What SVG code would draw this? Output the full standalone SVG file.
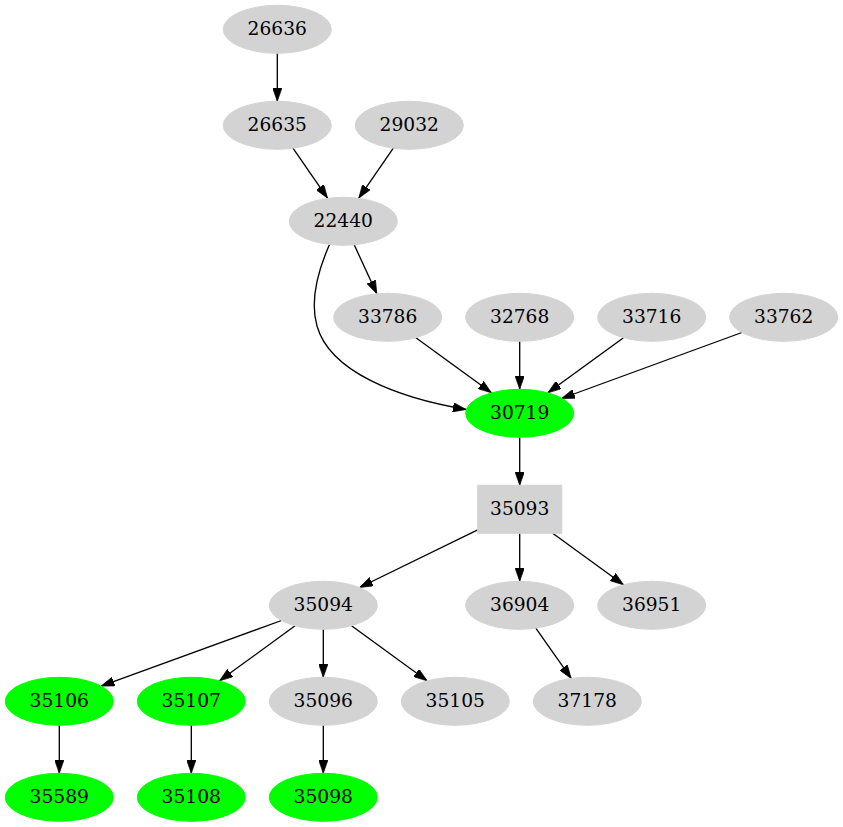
<svg xmlns="http://www.w3.org/2000/svg" width="843" height="827" viewBox="0 0 843 827">
<style>
.g ellipse, .g rect { fill: #d3d3d3; stroke: #d3d3d3; }
.hl ellipse { fill: #00ff00; stroke: #00ff00; }
text { font-family: "DejaVu Serif", "Liberation Serif", serif; font-size: 18.67px; text-anchor: middle; fill: #000; }
.e path, .e line { stroke: #000; stroke-width: 1.33; fill: none; marker-end: url(#ah); }
</style>
<defs>
<marker id="ah" viewBox="0 0 10 7" refX="10" refY="3.5" markerUnits="userSpaceOnUse" markerWidth="13.3" markerHeight="9.3" orient="auto">
<path d="M0,0 L10,3.5 L0,7 z" fill="#000" stroke="#000" stroke-width="0.5"/>
</marker>
</defs>
<rect width="843" height="827" fill="#fff"/>
<g id="edges" class="e">
<line x1="277.3" y1="53.3" x2="277.3" y2="101.3"/>
<line x1="292.8" y1="147.9" x2="327.5" y2="198.1"/>
<line x1="393.5" y1="147.9" x2="358.8" y2="198.1"/>
<line x1="354.2" y1="244.8" x2="376.8" y2="293.8"/>
<path d="M329.5,244.5 C320,266 309,298 317,326 C330,372 398,398 466.2,409.5"/>
<line x1="415.9" y1="337.8" x2="491.5" y2="392.8"/>
<line x1="519.7" y1="341.3" x2="519.7" y2="389.3"/>
<line x1="623.5" y1="337.8" x2="547.9" y2="392.8"/>
<line x1="741.9" y1="332.5" x2="561.5" y2="398.5"/>
<line x1="519.7" y1="437.3" x2="519.7" y2="485.3"/>
<line x1="477.7" y1="529.8" x2="359.6" y2="587.5"/>
<line x1="519.7" y1="533.3" x2="519.7" y2="581.3"/>
<line x1="552.7" y1="533.3" x2="623.5" y2="584.8"/>
<line x1="281.5" y1="620.5" x2="101.1" y2="686.1"/>
<line x1="295.1" y1="625.8" x2="219.5" y2="680.8"/>
<line x1="323.3" y1="629.3" x2="323.3" y2="677.3"/>
<line x1="351.5" y1="625.8" x2="427.1" y2="680.8"/>
<line x1="535.8" y1="628.2" x2="571.2" y2="678.4"/>
<line x1="59.3" y1="725.3" x2="59.3" y2="773.3"/>
<line x1="191.3" y1="725.3" x2="191.3" y2="773.3"/>
<line x1="323.3" y1="725.3" x2="323.3" y2="773.3"/>
</g>
<g id="n26636" class="g"><ellipse cx="277.3" cy="29.3" rx="54" ry="24"/><text x="277.3" y="34.6">26636</text></g>
<g id="n26635" class="g"><ellipse cx="277.3" cy="125.3" rx="54" ry="24"/><text x="277.3" y="130.6">26635</text></g>
<g id="n29032" class="g"><ellipse cx="409.3" cy="125.3" rx="54" ry="24"/><text x="409.3" y="130.6">29032</text></g>
<g id="n22440" class="g"><ellipse cx="343.3" cy="221.3" rx="54" ry="24"/><text x="343.3" y="226.6">22440</text></g>
<g id="n33786" class="g"><ellipse cx="387.7" cy="317.3" rx="54" ry="24"/><text x="387.7" y="322.6">33786</text></g>
<g id="n32768" class="g"><ellipse cx="519.7" cy="317.3" rx="54" ry="24"/><text x="519.7" y="322.6">32768</text></g>
<g id="n33716" class="g"><ellipse cx="651.7" cy="317.3" rx="54" ry="24"/><text x="651.7" y="322.6">33716</text></g>
<g id="n33762" class="g"><ellipse cx="783.7" cy="317.3" rx="54" ry="24"/><text x="783.7" y="322.6">33762</text></g>
<g id="n30719" class="hl"><ellipse cx="519.7" cy="413.3" rx="54" ry="24"/><text x="519.7" y="418.6">30719</text></g>
<g id="n35093" class="g"><rect x="477.7" y="485.3" width="84" height="48"/><text x="519.7" y="514.6">35093</text></g>
<g id="n35094" class="g"><ellipse cx="323.3" cy="605.3" rx="54" ry="24"/><text x="323.3" y="610.6">35094</text></g>
<g id="n36904" class="g"><ellipse cx="519.7" cy="605.3" rx="54" ry="24"/><text x="519.7" y="610.6">36904</text></g>
<g id="n36951" class="g"><ellipse cx="651.7" cy="605.3" rx="54" ry="24"/><text x="651.7" y="610.6">36951</text></g>
<g id="n35106" class="hl"><ellipse cx="59.3" cy="701.3" rx="54" ry="24"/><text x="59.3" y="706.6">35106</text></g>
<g id="n35107" class="hl"><ellipse cx="191.3" cy="701.3" rx="54" ry="24"/><text x="191.3" y="706.6">35107</text></g>
<g id="n35096" class="g"><ellipse cx="323.3" cy="701.3" rx="54" ry="24"/><text x="323.3" y="706.6">35096</text></g>
<g id="n35105" class="g"><ellipse cx="455.3" cy="701.3" rx="54" ry="24"/><text x="455.3" y="706.6">35105</text></g>
<g id="n37178" class="g"><ellipse cx="587.3" cy="701.3" rx="54" ry="24"/><text x="587.3" y="706.6">37178</text></g>
<g id="n35589" class="hl"><ellipse cx="59.3" cy="797.3" rx="54" ry="24"/><text x="59.3" y="802.6">35589</text></g>
<g id="n35108" class="hl"><ellipse cx="191.3" cy="797.3" rx="54" ry="24"/><text x="191.3" y="802.6">35108</text></g>
<g id="n35098" class="hl"><ellipse cx="323.3" cy="797.3" rx="54" ry="24"/><text x="323.3" y="802.6">35098</text></g>
</svg>
